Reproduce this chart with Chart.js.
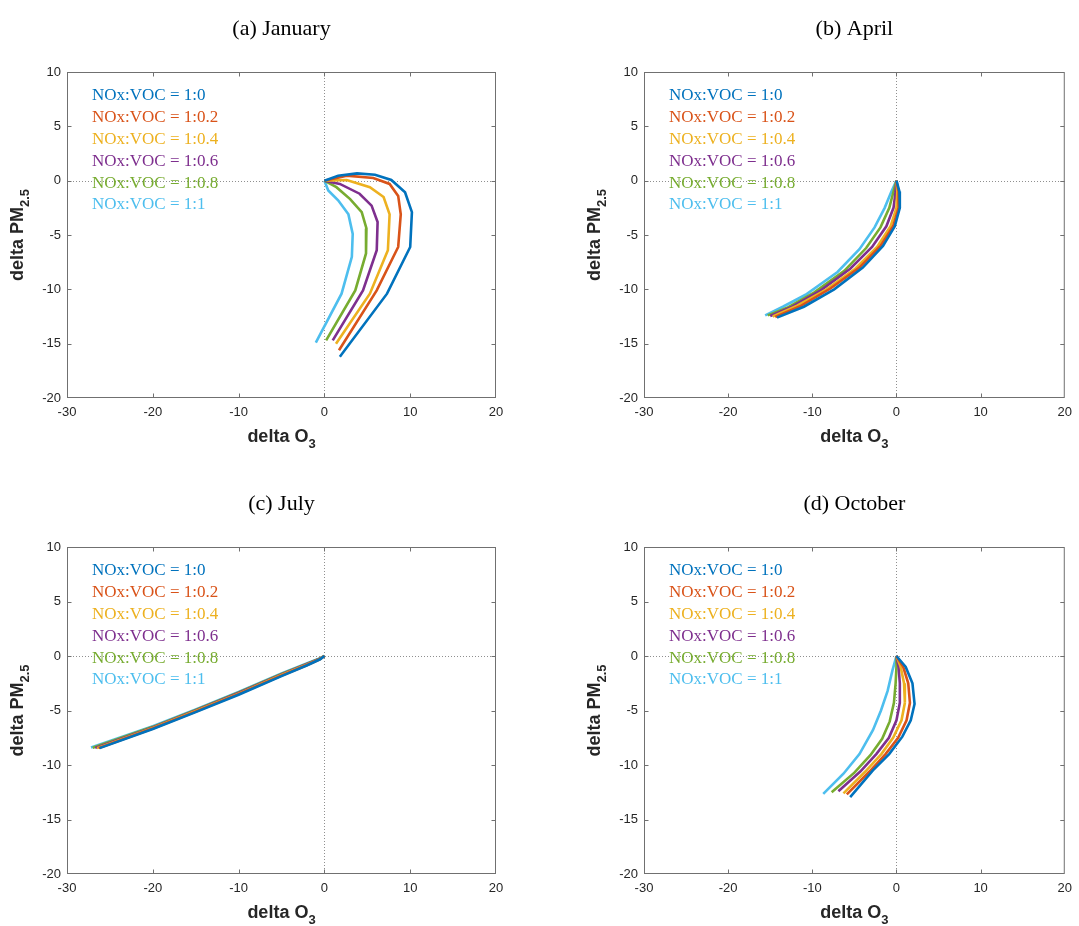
<!DOCTYPE html>
<html><head><meta charset="utf-8">
<script src="https://cdn.jsdelivr.net/npm/chart.js@4.4.0/dist/chart.umd.min.js"></script>
<style>
html,body{margin:0;padding:0;background:#fff;}
#wrap{position:relative;width:1079px;height:926px;overflow:hidden;background:#fff;}
canvas{position:absolute;}
</style></head><body><div id="wrap">
<canvas id="c0" width="540" height="463" style="left:0;top:0;width:540px;height:463px"></canvas>
<canvas id="c1" width="540" height="463" style="left:539px;top:0;width:540px;height:463px"></canvas>
<canvas id="c2" width="540" height="463" style="left:0;top:463px;width:540px;height:463px"></canvas>
<canvas id="c3" width="540" height="463" style="left:539px;top:463px;width:540px;height:463px"></canvas>
</div>
<script>
// ---------- data ----------
const panelTitles = ['(a) January', '(b) April', '(c) July', '(d) October'];
const ratioLabels = ['1:0', '1:0.2', '1:0.4', '1:0.6', '1:0.8', '1:1'];
const xTickValues = [-30, -20, -10, 0, 10, 20];
const yTickValues = [-20, -15, -10, -5, 0, 5, 10];
const xAxisTitle = ['delta O', '3'];
const yAxisTitle = ['delta PM', '2.5'];

// (a) January  [delta O3, delta PM2.5]
const jan_1_0  = [[0,0],[1.6,0.46],[3.8,0.67],[5.9,0.55],[7.8,0.06],[9.4,-1.07],[10.2,-2.9],[10.0,-6.1],[7.3,-10.4],[1.8,-16.2]];
const jan_1_02 = [[0,0],[2.6,0.46],[5.7,0.25],[7.6,-0.3],[8.6,-1.4],[8.9,-3.1],[8.6,-6.1],[6.1,-10.1],[1.7,-15.6]];
const jan_1_04 = [[0,0],[2.6,0.06],[5.3,-0.6],[6.9,-1.5],[7.6,-3.1],[7.4,-6.4],[5.3,-10.4],[1.35,-15.0]];
const jan_1_06 = [[0,0],[1.8,-0.3],[4.1,-1.2],[5.5,-2.3],[6.2,-3.8],[6.1,-6.4],[4.5,-10.1],[0.97,-14.7]];
const jan_1_08 = [[0,0],[1.4,-0.6],[3.0,-1.7],[4.35,-2.9],[4.9,-4.4],[4.85,-6.7],[3.6,-10.1],[0.2,-14.7]];
const jan_1_1  = [[0,0],[0.45,-0.9],[1.6,-1.8],[2.8,-3.1],[3.3,-4.9],[3.2,-7.0],[2.0,-10.4],[-1.0,-14.9]];

// (b) April
const apr_1_0  = [[0,0],[0.35,-1.0],[0.4,-2.5],[-0.2,-4.2],[-1.6,-6.0],[-4.0,-8.0],[-7.4,-10.0],[-11.0,-11.6],[-14.2,-12.6]];
const apr_1_02 = [[0,0],[0.25,-1.0],[0.25,-2.5],[-0.4,-4.2],[-1.9,-6.0],[-4.4,-8.0],[-7.8,-9.9],[-11.3,-11.5],[-14.4,-12.55]];
const apr_1_04 = [[0,0],[0.1,-1.0],[0.0,-2.5],[-0.7,-4.2],[-2.3,-6.1],[-4.9,-8.1],[-8.3,-10.0],[-11.8,-11.5],[-14.7,-12.5]];
const apr_1_06 = [[0,0],[-0.1,-1.0],[-0.35,-2.5],[-1.2,-4.2],[-2.9,-6.1],[-5.5,-8.1],[-9.0,-10.1],[-12.4,-11.6],[-15.0,-12.45]];
const apr_1_08 = [[0,0],[-0.35,-1.0],[-0.85,-2.5],[-1.9,-4.3],[-3.6,-6.2],[-6.2,-8.3],[-9.8,-10.3],[-13.0,-11.7],[-15.3,-12.4]];
const apr_1_1  = [[0,0],[-0.6,-1.0],[-1.4,-2.5],[-2.6,-4.3],[-4.4,-6.3],[-7.0,-8.4],[-10.8,-10.5],[-13.5,-11.6],[-15.6,-12.4]];

// (c) July
const jul_1_0  = [[0,0],[-0.5,-0.3],[-2,-0.85],[-5,-1.85],[-10,-3.55],[-15,-5.15],[-20,-6.7],[-26.2,-8.45]];
const jul_1_02 = [[0,0],[-0.5,-0.28],[-2,-0.82],[-5,-1.8],[-10,-3.5],[-15,-5.1],[-20,-6.65],[-26.3,-8.45]];
const jul_1_04 = [[0,0],[-0.5,-0.26],[-2,-0.78],[-5,-1.75],[-10,-3.45],[-15,-5.05],[-20,-6.6],[-26.5,-8.45]];
const jul_1_06 = [[0,0],[-0.5,-0.24],[-2,-0.74],[-5,-1.7],[-10,-3.4],[-15,-5.0],[-20,-6.55],[-26.7,-8.43]];
const jul_1_08 = [[0,0],[-0.5,-0.22],[-2,-0.7],[-5,-1.65],[-10,-3.35],[-15,-4.95],[-20,-6.5],[-27.0,-8.42]];
const jul_1_1  = [[0,0],[-0.5,-0.2],[-2,-0.66],[-5,-1.6],[-10,-3.3],[-15,-4.9],[-20,-6.45],[-27.2,-8.4]];

// (d) October
const oct_1_0  = [[0,0],[1.1,-1.0],[1.9,-2.5],[2.15,-4.4],[1.7,-5.9],[0.7,-7.4],[-0.87,-9.0],[-2.8,-10.5],[-5.5,-12.95]];
const oct_1_02 = [[0,0],[0.8,-1.0],[1.4,-2.5],[1.6,-4.3],[1.2,-5.9],[0.2,-7.5],[-1.3,-9.0],[-3.2,-10.6],[-5.9,-12.7]];
const oct_1_04 = [[0,0],[0.5,-1.0],[0.9,-2.5],[1.0,-4.3],[0.6,-5.9],[-0.4,-7.5],[-1.8,-9.0],[-3.7,-10.6],[-6.3,-12.6]];
const oct_1_06 = [[0,0],[0.25,-1.0],[0.4,-2.5],[0.4,-4.3],[0.0,-5.9],[-0.9,-7.5],[-2.4,-9.0],[-4.3,-10.6],[-6.9,-12.4]];
const oct_1_08 = [[0,0],[0.0,-1.0],[-0.1,-2.5],[-0.3,-4.3],[-0.8,-6.0],[-1.7,-7.6],[-3.1,-9.1],[-5.0,-10.7],[-7.7,-12.5]];
const oct_1_1  = [[0,0],[-0.47,-1.3],[-1.05,-3.2],[-1.84,-5.0],[-2.8,-6.8],[-4.4,-9.0],[-6.3,-10.8],[-8.7,-12.65]];

const panelSeries = [
  [jan_1_0, jan_1_02, jan_1_04, jan_1_06, jan_1_08, jan_1_1],
  [apr_1_0, apr_1_02, apr_1_04, apr_1_06, apr_1_08, apr_1_1],
  [jul_1_0, jul_1_02, jul_1_04, jul_1_06, jul_1_08, jul_1_1],
  [oct_1_0, oct_1_02, oct_1_04, oct_1_06, oct_1_08, oct_1_1]
];

// ---------- styling ----------
const lineColors = ['#0072BD', '#D95319', '#EDB120', '#7E2F8E', '#77AC30', '#4DBEEE'];
const SANS = '"Liberation Sans", Arial, sans-serif';
const SERIF = '"Liberation Serif", "Times New Roman", serif';

const framePlugin = {
  id: 'frame',
  beforeDatasetsDraw(chart) {
    const { ctx, chartArea: a, scales: { x, y } } = chart;
    ctx.save();
    ctx.strokeStyle = '#8f8f8f';
    ctx.lineWidth = 1;
    ctx.setLineDash([1, 2]);
    const x0 = Math.round(x.getPixelForValue(0)) + 0.5;
    const y0 = Math.round(y.getPixelForValue(0)) + 0.5;
    ctx.beginPath();
    ctx.moveTo(x0, a.top); ctx.lineTo(x0, a.bottom);
    ctx.moveTo(a.left, y0); ctx.lineTo(a.right, y0);
    ctx.stroke();
    ctx.restore();
  },
  afterDatasetsDraw(chart, args, opts) {
    const { ctx, chartArea: a, scales: { x, y } } = chart;
    ctx.save();
    // box + inward ticks
    ctx.strokeStyle = '#707070';
    ctx.lineWidth = 1;
    const L = a.left + 0.5, R = a.right - 0.5, T = a.top + 0.5, B = a.bottom - 0.5;
    ctx.strokeRect(L, T, R - L, B - T);
    ctx.beginPath();
    const tl = 4;
    x.ticks.forEach(t => {
      if (t.value === x.min || t.value === x.max) return;
      const px = Math.round(x.getPixelForValue(t.value)) + 0.5;
      ctx.moveTo(px, B); ctx.lineTo(px, B - tl);
      ctx.moveTo(px, T); ctx.lineTo(px, T + tl);
    });
    y.ticks.forEach(t => {
      if (t.value === y.min || t.value === y.max) return;
      const py = Math.round(y.getPixelForValue(t.value)) + 0.5;
      ctx.moveTo(L, py); ctx.lineTo(L + tl, py);
      ctx.moveTo(R, py); ctx.lineTo(R - tl, py);
    });
    ctx.stroke();

    // in-plot legend text
    ctx.font = '17px ' + SERIF;
    ctx.textAlign = 'left';
    ctx.textBaseline = 'middle';
    chart.data.datasets.forEach((ds, i) => {
      ctx.fillStyle = ds.borderColor;
      ctx.fillText(ds.label, a.left + 25, a.top + 24 + i * 21.8);
    });

    // panel title
    ctx.fillStyle = '#000';
    ctx.font = '22px ' + SERIF;
    ctx.textAlign = 'center';
    ctx.textBaseline = 'alphabetic';
    ctx.fillText(opts.title, (a.left + a.right) / 2, a.top - 37);

    // x axis title with subscript
    ctx.fillStyle = '#262626';
    const mainFont = 'bold 18px ' + SANS, subFont = 'bold 13px ' + SANS;
    ctx.font = mainFont;
    const w1 = ctx.measureText(xAxisTitle[0]).width;
    ctx.font = subFont;
    const w2 = ctx.measureText(xAxisTitle[1]).width;
    const sx = (a.left + a.right) / 2 - (w1 + w2) / 2;
    const by = a.bottom + 43.5;
    ctx.textAlign = 'left';
    ctx.font = mainFont; ctx.fillText(xAxisTitle[0], sx, by);
    ctx.font = subFont; ctx.fillText(xAxisTitle[1], sx + w1, by + 6);

    // y axis title with subscript (rotated)
    ctx.save();
    ctx.translate(a.left - 44, (a.top + a.bottom) / 2);
    ctx.rotate(-Math.PI / 2);
    ctx.font = mainFont;
    const v1 = ctx.measureText(yAxisTitle[0]).width;
    ctx.font = subFont;
    const v2 = ctx.measureText(yAxisTitle[1]).width;
    const s0 = -(v1 + v2) / 2;
    ctx.font = mainFont; ctx.fillText(yAxisTitle[0], s0, 0);
    ctx.font = subFont; ctx.fillText(yAxisTitle[1], s0 + v1, 6);
    ctx.restore();

    ctx.restore();
  }
};

const layouts = [
  { left: 27, right: 44, top: 72, bottom: 35 },
  { left: 65, right: 8, top: 72, bottom: 35 },
  { left: 27, right: 44, top: 84, bottom: 22 },
  { left: 65, right: 8, top: 84, bottom: 22 }
];

panelSeries.forEach((series, p) => {
  const datasets = series.map((pts, i) => ({
    label: 'NOx:VOC = ' + ratioLabels[i],
    data: pts.map(([xv, yv]) => ({ x: xv, y: yv })),
    borderColor: lineColors[i],
    backgroundColor: lineColors[i],
    borderWidth: 2.6,
    showLine: true,
    pointRadius: 0,
    tension: 0,
    fill: false
  }));
  new Chart(document.getElementById('c' + p), {
    type: 'scatter',
    data: { datasets },
    options: {
      responsive: false,
      animation: false,
      devicePixelRatio: 1,
      layout: { padding: layouts[p] },
      plugins: {
        legend: { display: false },
        tooltip: { enabled: false },
        frame: { title: panelTitles[p] }
      },
      scales: {
        x: {
          type: 'linear', min: xTickValues[0], max: xTickValues[xTickValues.length - 1],
          afterBuildTicks: s => { s.ticks = xTickValues.map(v => ({ value: v })); },
          afterFit: s => { s.height = 30; },
          grid: { display: false, drawTicks: false },
          border: { display: false },
          ticks: { font: { family: SANS, size: 13 }, color: '#262626', padding: 7, maxRotation: 0, autoSkip: false }
        },
        y: {
          type: 'linear', min: yTickValues[0], max: yTickValues[yTickValues.length - 1],
          afterBuildTicks: s => { s.ticks = yTickValues.map(v => ({ value: v })); },
          afterFit: s => { s.width = 40; },
          grid: { display: false, drawTicks: false },
          border: { display: false },
          ticks: { font: { family: SANS, size: 13 }, color: '#262626', padding: 6, autoSkip: false }
        }
      }
    },
    plugins: [framePlugin]
  });
});
</script>
</body></html>
